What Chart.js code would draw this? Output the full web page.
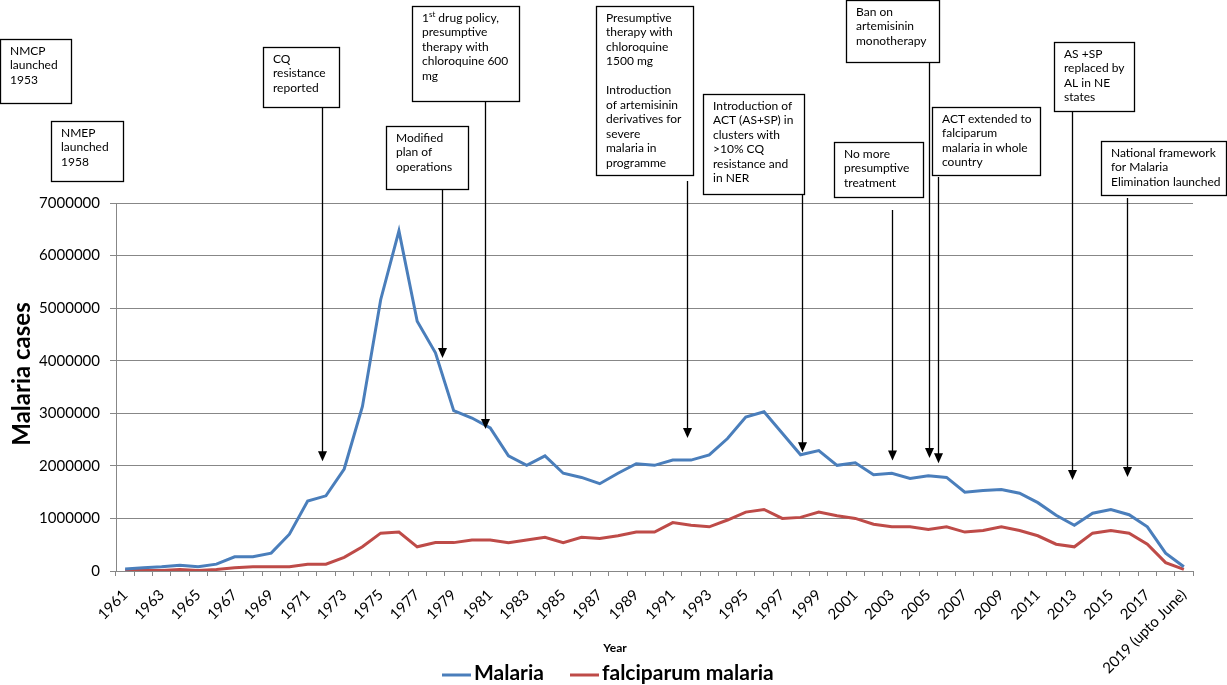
<!DOCTYPE html>
<html><head><meta charset="utf-8">
<script src="https://cdn.jsdelivr.net/npm/chart.js@4"></script>
<style>html,body{margin:0;padding:0;background:#fff}#wrap{width:1227px;height:685px;position:relative}</style>
</head><body><div id="wrap"><canvas id="c" width="1227" height="685"></canvas></div>
<script>
const years = ['1961','1962','1963','1964','1965','1966','1967','1968','1969','1970',
  '1971','1972','1973','1974','1975','1976','1977','1978','1979','1980',
  '1981','1982','1983','1984','1985','1986','1987','1988','1989','1990',
  '1991','1992','1993','1994','1995','1996','1997','1998','1999','2000',
  '2001','2002','2003','2004','2005','2006','2007','2008','2009','2010',
  '2011','2012','2013','2014','2015','2016','2017','2018','2019 (upto June)'];

const malaria = [40000,60000,80000,110000,80000,130000,270000,270000,340000,700000,
  1330000,1430000,1940000,3130000,5160000,6470000,4750000,4150000,3050000,2910000,
  2720000,2190000,2010000,2190000,1860000,1780000,1660000,1860000,2040000,2010000,
  2110000,2110000,2210000,2520000,2930000,3030000,2620000,2210000,2290000,2010000,
  2060000,1830000,1860000,1760000,1810000,1780000,1500000,1530000,1550000,1480000,
  1300000,1060000,870000,1100000,1170000,1070000,840000,340000,80000];

const falciparum = [10000,10000,10000,30000,10000,30000,60000,80000,80000,80000,
  130000,130000,260000,460000,720000,740000,460000,540000,540000,590000,
  590000,540000,590000,640000,540000,640000,620000,670000,740000,740000,
  920000,870000,840000,970000,1120000,1170000,1000000,1020000,1120000,1050000,
  1000000,890000,840000,840000,790000,840000,740000,770000,840000,770000,
  670000,510000,460000,720000,770000,720000,510000,160000,30000];

const seriesNames = ['Malaria','falciparum malaria'];
const yTickStep = 1000000;
const yMax = 7000000;

// event annotations: text, year position (category index) and value the arrow points to
const eventTexts = [
  ['NMCP','launched','1953'],
  ['NMEP','launched','1958'],
  ['CQ','resistance','reported'],
  ['Modified','plan of','operations'],
  ['1^st drug policy,','presumptive','therapy with','chloroquine 600','mg'],
  ['Presumptive','therapy with','chloroquine','1500 mg','','Introduction','of artemisinin','derivatives for','severe','malaria in','programme'],
  ['Introduction of','ACT (AS+SP) in','clusters with','>10% CQ','resistance and','in NER'],
  ['No more','presumptive','treatment'],
  ['Ban on','artemisinin','monotherapy'],
  ['ACT extended to','falciparum','malaria in whole','country'],
  ['AS +SP','replaced by','AL in NE','states'],
  ['National framework','for Malaria','Elimination launched']
];
const eventPos = [null,null,10.80,17.36,19.72,30.78,37.08,42.03,44.03,44.52,51.86,54.87];
const eventTip = [null,null,2090000,4050000,2700000,2530000,2260000,2100000,2150000,2050000,1730000,1790000];

// layout of boxes (pixels): x, y, w, h, arrow start y
const boxLayout = [
  [0,39,71,64,null],
  [51,121,72,60,null],
  [263,47,76,60,107],
  [386,126,82,63,189],
  [412,6,107,95,101],
  [596,6,97,169,181],
  [703,94,101,100,194],
  [834,142,89,55,210],
  [846,0,93,62,62],
  [932,107,108,68,177],
  [1054,42,80,69,111],
  [1101,141,125,54,198]
];

const FONT = 'Lato';
const GRID = '#878787';

const annotationPlugin = {
  id: 'annot',
  afterDraw(chart) {
    const ctx = chart.ctx;
    const xs = chart.scales.x, ys = chart.scales.y;
    ctx.save();
    eventTexts.forEach((lines, i) => {
      const [bx, by, bw, bh, sy] = boxLayout[i];
      ctx.fillStyle = '#fff';
      ctx.fillRect(bx, by, bw, bh);
      ctx.strokeStyle = '#000';
      ctx.lineWidth = 1.3;
      ctx.strokeRect(bx + 0.5, by + 0.5, bw, bh);
      ctx.fillStyle = '#000';
      ctx.textBaseline = 'middle';
      ctx.textAlign = 'left';
      lines.forEach((ln, k) => {
        const ty = by + 12 + k * 14.5;
        const tx = bx + 10;
        if (ln.indexOf('^') >= 0) {
          const m = ln.match(/^(.*?)\^(\w+)(.*)$/);
          ctx.font = '12px ' + FONT;
          ctx.fillText(m[1], tx, ty);
          let w = ctx.measureText(m[1]).width;
          ctx.font = '8px ' + FONT;
          ctx.fillText(m[2], tx + w, ty - 4);
          w += ctx.measureText(m[2]).width;
          ctx.font = '12px ' + FONT;
          ctx.fillText(m[3], tx + w, ty);
        } else {
          ctx.font = '12px ' + FONT;
          ctx.fillText(ln, tx, ty);
        }
      });
      if (eventPos[i] !== null) {
        const x = Math.round(xs.getPixelForValue(eventPos[i])) + 0.5;
        const tip = ys.getPixelForValue(eventTip[i]);
        ctx.strokeStyle = '#000';
        ctx.lineWidth = 1.3;
        ctx.beginPath();
        ctx.moveTo(x, sy);
        ctx.lineTo(x, tip - 8);
        ctx.stroke();
        ctx.beginPath();
        ctx.moveTo(x - 4.5, tip - 10);
        ctx.lineTo(x + 4.5, tip - 10);
        ctx.lineTo(x, tip);
        ctx.closePath();
        ctx.fill();
      }
    });
    // axis titles
    ctx.fillStyle = '#000';
    ctx.font = 'bold 24px ' + FONT;
    ctx.textAlign = 'center';
    ctx.textBaseline = 'middle';
    ctx.save();
    ctx.translate(22, 374);
    ctx.rotate(-Math.PI / 2);
    ctx.fillText('Malaria cases', 0, 0);
    ctx.restore();
    ctx.font = 'bold 12px ' + FONT;
    ctx.fillText('Year', 615, 648);
    // legend
    const ds = chart.data.datasets;
    const legendX = [442, 570];
    ds.forEach((d, i) => {
      const lx = legendX[i];
      ctx.strokeStyle = d.borderColor;
      ctx.lineWidth = 3;
      ctx.beginPath();
      ctx.moveTo(lx, 675);
      ctx.lineTo(lx + 29, 675);
      ctx.stroke();
      ctx.fillStyle = '#000';
      ctx.font = 'bold 21px ' + FONT;
      ctx.textAlign = 'left';
      ctx.textBaseline = 'middle';
      ctx.fillText(d.label, lx + 32, 673);
    });
    ctx.restore();
  }
};

new Chart(document.getElementById('c'), {
  type: 'line',
  data: {
    labels: years,
    datasets: [
      {label: seriesNames[0], data: malaria, borderColor: '#4A7EBB', backgroundColor: '#4A7EBB', borderWidth: 3, pointRadius: 0, tension: 0},
      {label: seriesNames[1], data: falciparum, borderColor: '#BE4B48', backgroundColor: '#BE4B48', borderWidth: 3, pointRadius: 0, tension: 0}
    ]
  },
  options: {
    responsive: false,
    animation: false,
    devicePixelRatio: 1,
    layout: {padding: {top: 203, right: 34, left: 0, bottom: 0}},
    plugins: {legend: {display: false}, tooltip: {enabled: false}},
    scales: {
      x: {
        offset: true,
        grid: {offset: true, drawOnChartArea: false, drawTicks: true, tickLength: 5, color: GRID},
        border: {color: GRID},
        ticks: {autoSkip: false, maxRotation: 45, minRotation: 45, color: '#000', padding: 10, font: {family: FONT, size: 15},
          callback: (v, i) => (i % 2 === 0 ? years[i] : '')},
        afterFit: s => { s.height = 114; }
      },
      y: {
        min: 0, max: yMax,
        grid: {color: GRID, tickLength: 6},
        border: {color: GRID},
        ticks: {stepSize: yTickStep, color: '#000', padding: 10, font: {family: FONT, size: 15},
          callback: v => String(v)},
        afterFit: s => { s.width = 116; }
      }
    }
  },
  plugins: [annotationPlugin]
});
</script></body></html>
